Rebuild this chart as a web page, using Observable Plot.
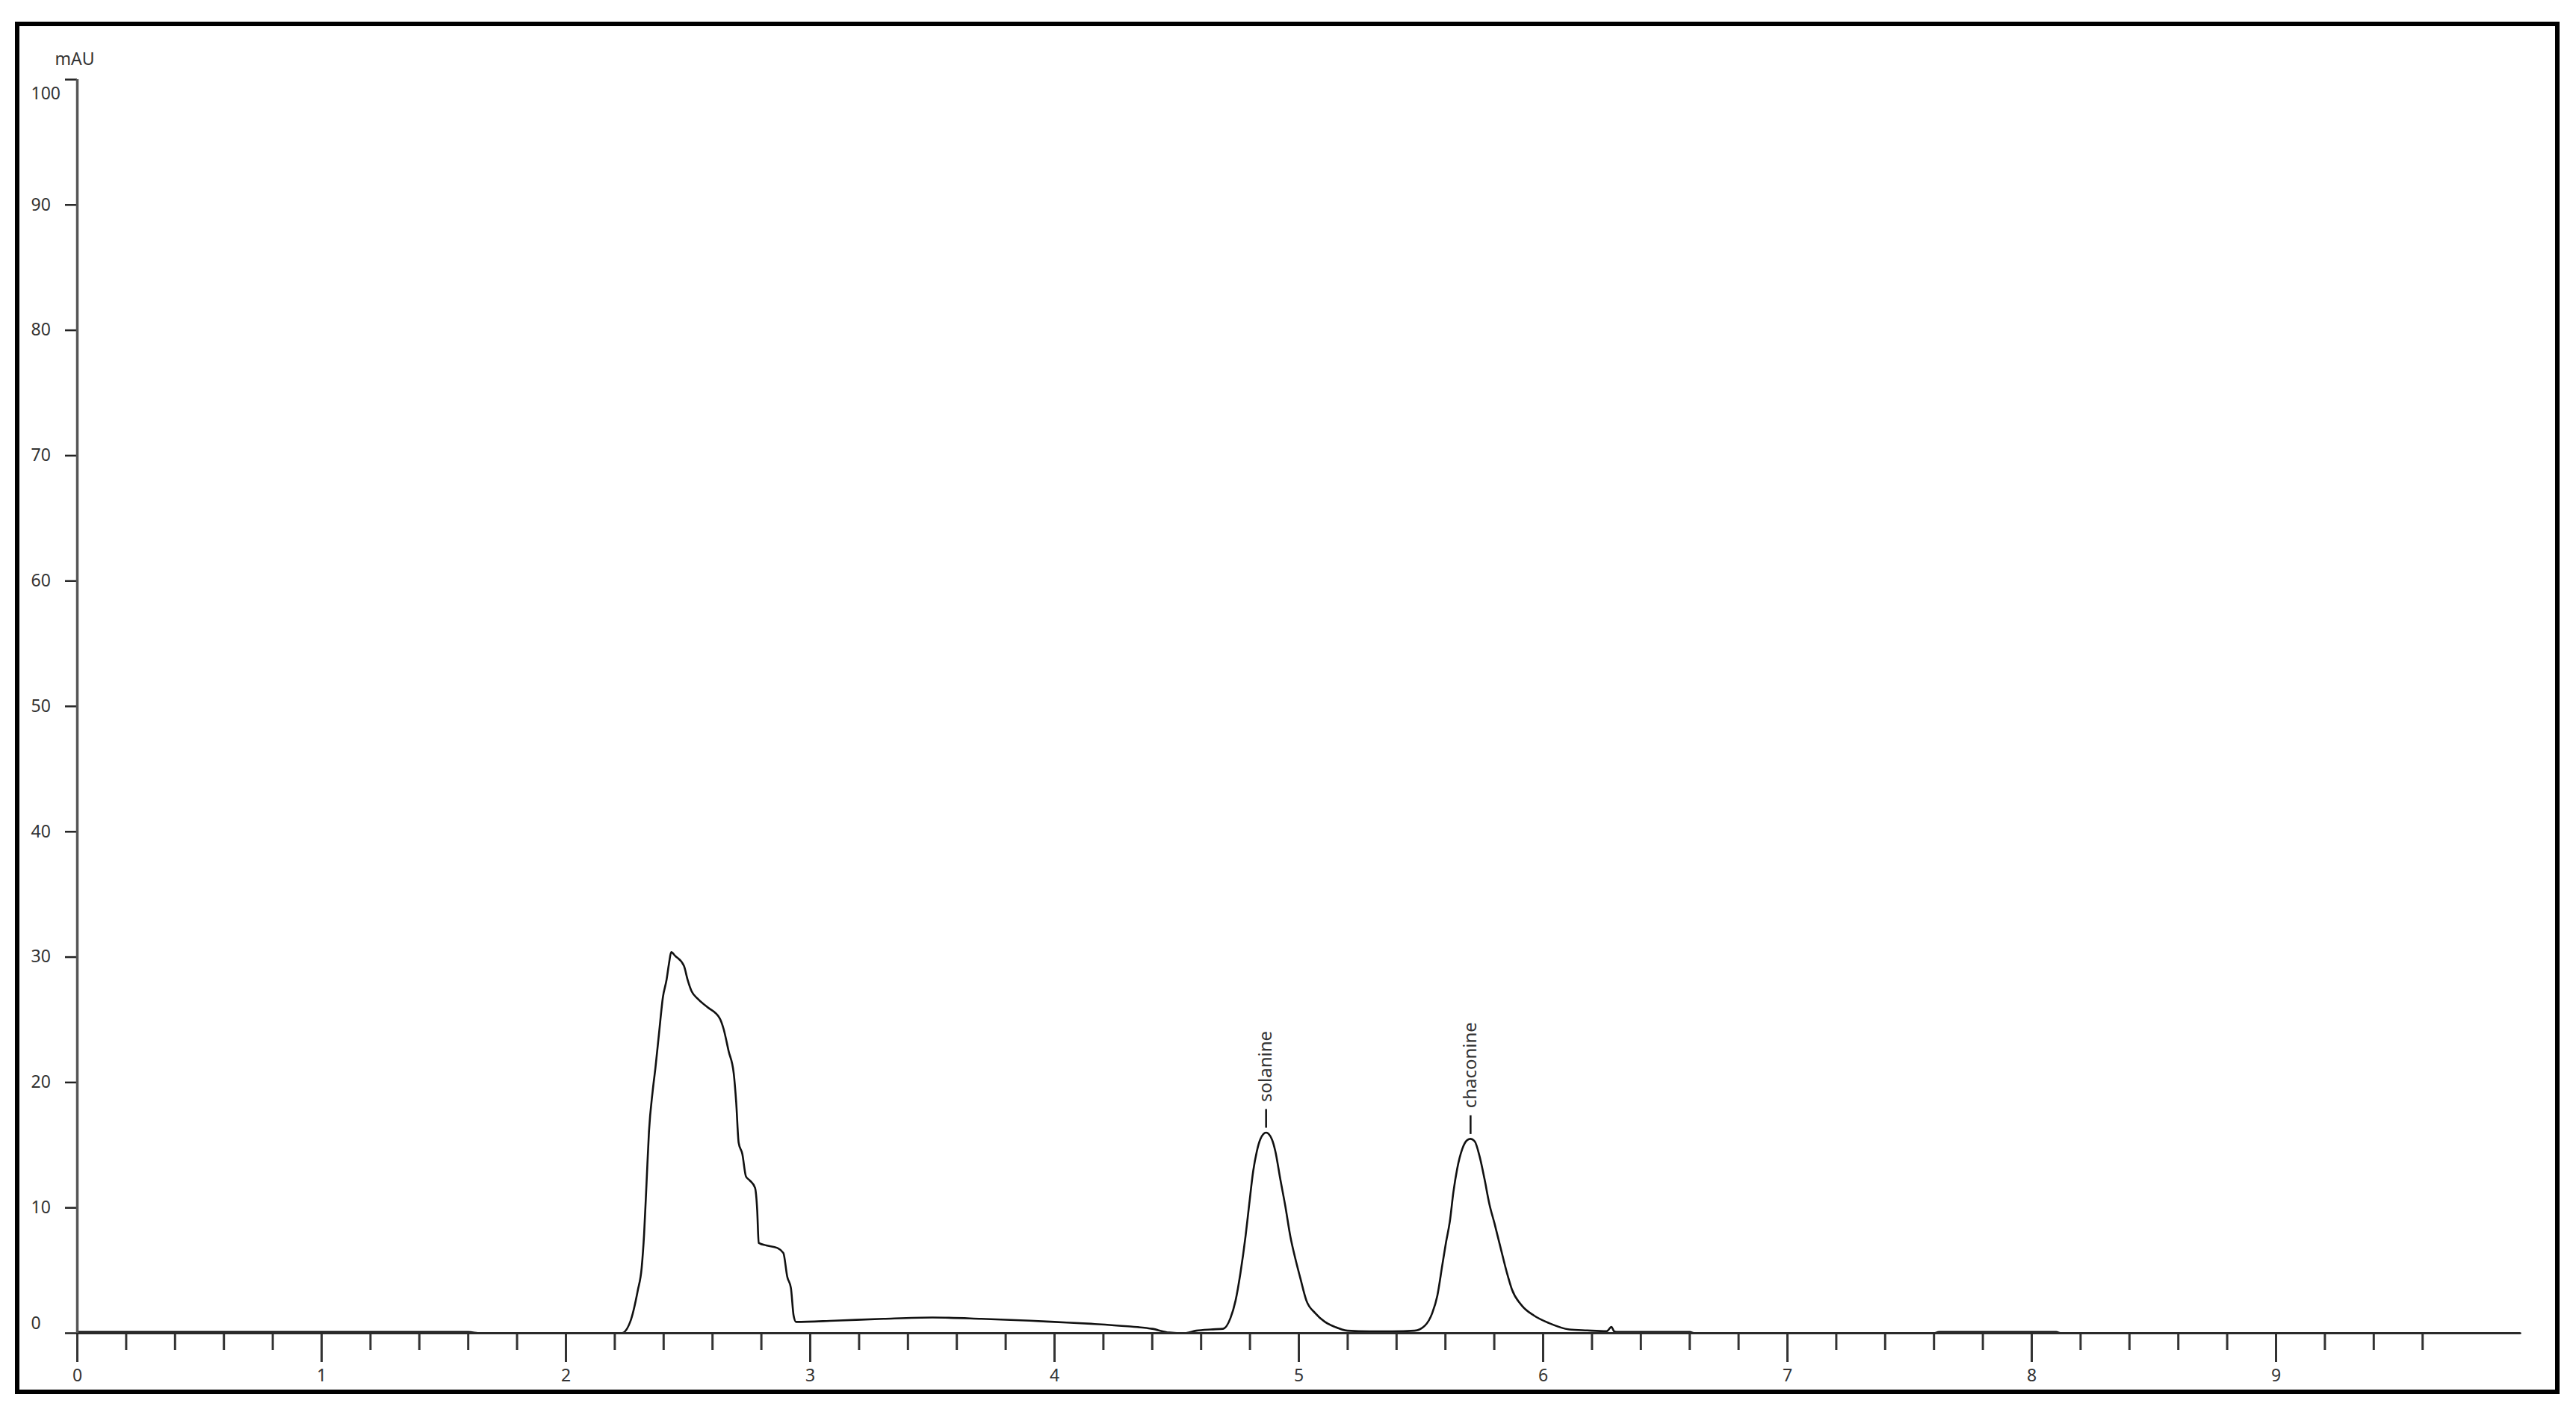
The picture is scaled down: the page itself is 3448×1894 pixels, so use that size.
<!DOCTYPE html>
<html>
<head>
<meta charset="utf-8">
<script src="https://cdn.jsdelivr.net/npm/d3@7"></script>
<script src="https://cdn.jsdelivr.net/npm/@observablehq/plot@0.6"></script>
<style>
  html, body { margin: 0; padding: 0; background: #fff; }
  #wrap { position: relative; width: 3448px; height: 1894px; overflow: hidden; }
  #frame { position: absolute; left: 20px; top: 29px; width: 3406px; height: 1837px;
           border: 6px solid #000; box-sizing: border-box; pointer-events: none; }
  #chart { position: absolute; left: 0; top: 0; }
</style>
</head>
<body>
<div id="wrap"><div id="chart"></div><div id="frame"></div></div>
<script>
// Retention time (min)
const time = [
  0, 0.5, 1.0, 1.6, 1.65, 2.2, 2.228, 2.263, 2.294, 2.31, 2.32, 2.33, 2.34, 2.355, 2.366,
  2.381, 2.397, 2.412, 2.422, 2.431, 2.447, 2.483, 2.498, 2.514, 2.538, 2.58, 2.63, 2.645,
  2.666, 2.687, 2.697, 2.707, 2.722, 2.737, 2.752, 2.774, 2.783, 2.789, 2.82, 2.865, 2.89,
  2.906, 2.921, 2.932, 2.942, 3.1, 3.3, 3.5, 3.7, 3.9, 4.0, 4.15, 4.3, 4.4, 4.47, 4.53,
  4.58, 4.64, 4.69, 4.72, 4.741, 4.761, 4.782, 4.797, 4.813, 4.828, 4.843, 4.866, 4.889,
  4.904, 4.924, 4.945, 4.965, 4.985, 5.006, 5.031, 5.067, 5.107, 5.148, 5.199, 5.29, 5.382,
  5.474, 5.516, 5.546, 5.567, 5.587, 5.602, 5.618, 5.633, 5.648, 5.669, 5.689, 5.703, 5.72,
  5.74, 5.76, 5.78, 5.801, 5.826, 5.852, 5.872, 5.913, 5.963, 6.025, 6.107, 6.18, 6.26,
  6.28, 6.29, 6.3, 6.6, 6.62, 7.6, 7.62, 8.1, 8.12, 10.0
];
// Absorbance (mAU)
const absorbance = [
  0.1, 0.1, 0.1, 0.1, 0, 0, 0, 0.9, 3.4, 5.2, 7.9, 12.0, 16.1, 19.3, 21.1,
  23.9, 26.8, 28.2, 29.5, 30.4, 30.1, 29.3, 28.2, 27.3, 26.7, 26.0, 25.1, 24.3,
  22.5, 20.7, 18.4, 15.2, 14.3, 12.5, 12.2, 11.6, 9.8, 7.2, 7.0, 6.8, 6.4,
  4.5, 3.6, 1.4, 0.9, 1.0, 1.15, 1.25, 1.15, 1.0, 0.9, 0.75, 0.55, 0.35, 0.05, 0.0,
  0.2, 0.3, 0.35, 1.2, 2.6, 4.8, 7.75, 10.3, 12.9, 14.5, 15.5, 16.0, 15.5,
  14.5, 12.3, 10.1, 7.75, 6.0, 4.4, 2.6, 1.6, 0.9, 0.5, 0.2, 0.15, 0.15,
  0.2, 0.6, 1.6, 3.0, 5.4, 7.2, 8.9, 11.3, 13.1, 14.7, 15.4, 15.5, 15.3,
  14.1, 12.3, 10.3, 8.75, 6.8, 4.8, 3.5, 2.2, 1.4, 0.8, 0.3, 0.22, 0.16,
  0.5, 0.16, 0.1, 0.1, 0, 0, 0.1, 0.1, 0, 0
];
// Peak annotations
const peakNames = ["solanine", "chaconine"];
const peakTimes = [4.866, 5.703];
const peakHeights = [16.0, 15.5];
// Axis ticks
const xTickLabels = [0, 1, 2, 3, 4, 5, 6, 7, 8, 9];
const xMinorTicks = d3.range(0, 49).map(i => i / 5);
const yTickLabels = [0, 10, 20, 30, 40, 50, 60, 70, 80, 90, 100];

const trace = time.map((t, i) => ({t, v: absorbance[i]}));
const peaks = peakNames.map((name, i) => ({name, t: peakTimes[i], v: peakHeights[i]}));
const yMid = yTickLabels.filter(d => d !== 0 && d !== 100);

const font = "'Noto Sans', 'Open Sans', sans-serif";
const txt = "#333";

const chart = Plot.plot({
  width: 3448,
  height: 1894,
  marginLeft: 103,
  marginRight: 75,
  marginTop: 106,
  marginBottom: 110,
  style: {fontFamily: font, fontSize: "23px", background: "transparent", color: txt},
  x: {domain: [0, 10]},
  y: {domain: [0, 100]},
  marks: [
    Plot.line(trace, {x: "t", y: "v", stroke: "#111", strokeWidth: 2.6, curve: "monotone-x"}),
    Plot.axisX({ticks: xMinorTicks, tickSize: 23, tickFormat: () => "", stroke: "#333", strokeWidth: 3, label: null}),
    Plot.axisX({ticks: xTickLabels, tickSize: 39, tickFormat: () => "", stroke: "#333", strokeWidth: 3, label: null}),
    Plot.axisY({ticks: yTickLabels, tickSize: 16, tickFormat: () => "", stroke: "#222", strokeWidth: 2.5, label: null}),
    Plot.ruleY([0], {stroke: "#2a2a2a", strokeWidth: 3}),
    Plot.ruleX([0], {stroke: "#555", strokeWidth: 3.5}),
    Plot.text(xTickLabels, {x: d => d, frameAnchor: "bottom", dy: 64, fontSize: 23, fill: txt}),
    Plot.text(yMid, {y: d => d, frameAnchor: "left", dx: -62, textAnchor: "start", fontSize: 23, fill: txt}),
    Plot.text([100], {y: d => d, frameAnchor: "left", dx: -62, dy: 19, textAnchor: "start", fontSize: 23, fill: txt}),
    Plot.text([0], {y: d => d, frameAnchor: "left", dx: -62, dy: -13, textAnchor: "start", fontSize: 23, fill: txt}),
    Plot.text(["mAU"], {frameAnchor: "top-left", dx: -30, dy: -36, textAnchor: "start", fontSize: 23, fill: txt}),
    Plot.ruleX(peaks, {x: "t", y1: d => d.v + 0.36, y2: d => d.v + 1.85, stroke: "#111", strokeWidth: 2.5}),
    Plot.text(peaks, {x: "t", y: d => d.v + 1.85, text: "name", rotate: -90, textAnchor: "start",
                      lineAnchor: "middle", dy: -10, fontSize: 24, fill: txt})
  ]
});
document.getElementById("chart").appendChild(chart);
</script>
</body>
</html>
